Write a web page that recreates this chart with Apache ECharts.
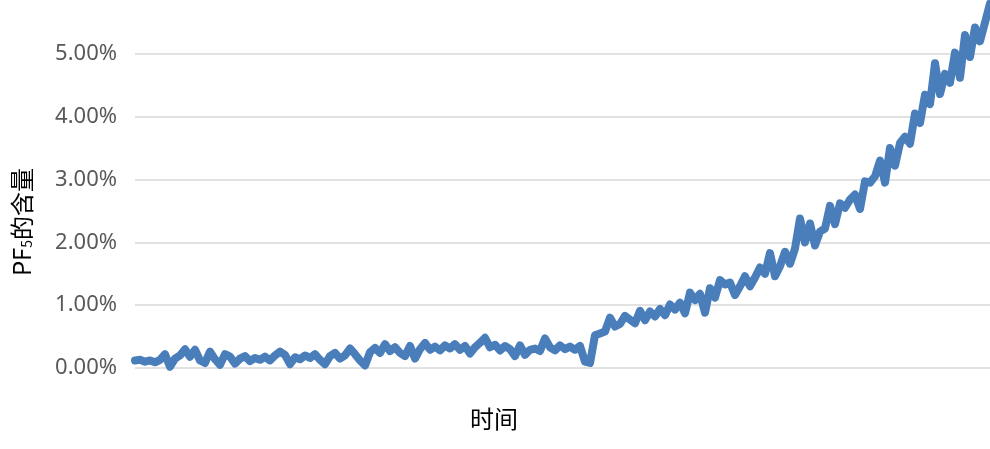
<!DOCTYPE html>
<html lang="zh">
<head>
<meta charset="UTF-8">
<title>PF5的含量</title>
<script src="https://cdn.jsdelivr.net/npm/echarts@6/dist/echarts.min.js"></script>
<style>
  html, body { margin: 0; padding: 0; background: #fff; }
  #chart { width: 990px; height: 449px; }
</style>
</head>
<body>
<div id="chart"></div>
<script>
  // PF5 含量 (%), 按时间顺序读取
  var pf5 = [
    0.12, 0.13, 0.10, 0.12, 0.09, 0.13, 0.22, 0.02, 0.15, 0.20,
    0.30, 0.18, 0.29, 0.12, 0.08, 0.26, 0.14, 0.05, 0.22, 0.18,
    0.07, 0.15, 0.19, 0.11, 0.16, 0.13, 0.18, 0.12, 0.20, 0.26,
    0.21, 0.06, 0.17, 0.14, 0.20, 0.16, 0.22, 0.13, 0.06, 0.19,
    0.24, 0.15, 0.20, 0.31, 0.22, 0.12, 0.04, 0.25, 0.32, 0.24,
    0.38, 0.27, 0.33, 0.24, 0.19, 0.35, 0.15, 0.30, 0.40, 0.29,
    0.34, 0.28, 0.36, 0.31, 0.38, 0.29, 0.35, 0.23, 0.33, 0.40,
    0.48, 0.33, 0.37, 0.28, 0.35, 0.30, 0.19, 0.36, 0.21, 0.29,
    0.31, 0.27, 0.47, 0.33, 0.28, 0.36, 0.30, 0.34, 0.29, 0.35,
    0.10, 0.08, 0.52, 0.55, 0.58, 0.80, 0.66, 0.70, 0.83, 0.77,
    0.71, 0.91, 0.76, 0.90, 0.82, 0.94, 0.84, 1.01, 0.93, 1.04,
    0.87, 1.20, 1.08, 1.18, 0.88, 1.27, 1.12, 1.40, 1.33, 1.36,
    1.16, 1.30, 1.46, 1.30, 1.44, 1.60, 1.50, 1.83, 1.46, 1.62,
    1.85, 1.66, 1.90, 2.38, 2.00, 2.30, 1.95, 2.17, 2.22, 2.58,
    2.29, 2.62, 2.55, 2.68, 2.76, 2.53, 2.97, 2.95, 3.05, 3.30,
    2.95, 3.50, 3.22, 3.58, 3.68, 3.57, 4.05, 3.90, 4.35, 4.20,
    4.85, 4.36, 4.68, 4.54, 5.02, 4.62, 5.30, 4.95, 5.42, 5.20,
    5.50, 5.80
  ];
  var times = pf5.map(function (v, i) { return i + 1; });

  var yMin = 0, yMax = 6, yStep = 1;

  var chart = echarts.init(document.getElementById('chart'));
  var option = {
    backgroundColor: '#fff',
    animation: false,
    grid: { left: 135, right: 0, top: -9, bottom: 81, outerBoundsMode: 'none', containLabel: false },
    xAxis: {
      type: 'category',
      data: times,
      boundaryGap: false,
      axisLine: { show: false },
      axisTick: { show: false },
      axisLabel: { show: false },
      splitLine: { show: false }
    },
    yAxis: {
      type: 'value',
      min: yMin,
      max: yMax,
      interval: yStep,
      axisLine: { show: false },
      axisTick: { show: false },
      axisLabel: {
        margin: 18,
        color: '#595959',
        fontSize: 22,
        fontFamily: 'Noto Sans',
        formatter: function (v) { return v.toFixed(2) + '%'; }
      },
      splitLine: { lineStyle: { color: '#d9d9d9', width: 1.5 } }
    },
    graphic: [
      {
        type: 'text',
        x: 494, y: 419,
        style: {
          text: '时间',
          fill: '#000',
          font: '24px "Noto Sans CJK SC"',
          align: 'center',
          verticalAlign: 'middle'
        }
      },
      {
        type: 'text',
        x: 22, y: 222,
        rotation: Math.PI / 2,
        style: {
          text: '{a|PF}{s|5}{a|的含量}',
          align: 'center',
          verticalAlign: 'middle',
          rich: {
            a: { fontSize: 24, fontFamily: 'Noto Sans CJK SC', fill: '#000', color: '#000' },
            s: { fontSize: 14, fontFamily: 'Noto Sans CJK SC', fill: '#000', color: '#000', verticalAlign: 'bottom', padding: [10, 0, 0, 0] }
          }
        }
      }
    ],
    series: [{
      type: 'line',
      data: pf5,
      symbol: 'none',
      lineStyle: { color: '#4a7ebb', width: 8, join: 'round', cap: 'round' }
    }]
  };
  chart.setOption(option);
</script>
</body>
</html>
